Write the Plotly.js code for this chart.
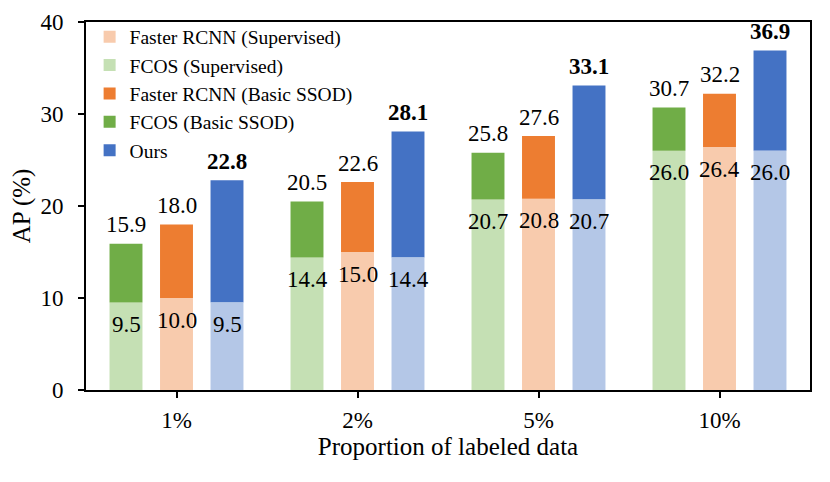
<!DOCTYPE html>
<html>
<head>
<meta charset="utf-8">
<script src="https://cdn.plot.ly/plotly-3.0.1.min.js"></script>
<style>html,body{margin:0;padding:0;background:#fff;}#chart{width:830px;height:482px;}</style>
</head>
<body>
<div id="chart"></div>
<script>
const categories = ['1%', '2%', '5%', '10%'];
const fcosSupervised = [9.5, 14.4, 20.7, 26.0];
const fcosBasic = [15.9, 20.5, 25.8, 30.7];
const fasterSupervised = [10.0, 15.0, 20.8, 26.4];
const fasterBasic = [18.0, 22.6, 27.6, 32.2];
const oursBase = [9.5, 14.4, 20.7, 26.0];
const oursTotal = [22.8, 28.1, 33.1, 36.9];

const FONT = 'Liberation Serif';
const W = 0.182;
const OFF = { fcos: -0.370, faster: -0.091, ours: 0.188 };
const fmt = v => v.toFixed(1);
const diff = (a, b) => a.map((v, i) => v - b[i]);

function lowerTrace(name, vals, color, off, group, show) {
  return {
    type: 'bar', name: name, x: categories, y: vals, base: 0,
    width: W, offset: off, marker: { color: color, line: { width: 0 } },
    legendgroup: group, showlegend: show, hoverinfo: 'x+y'
  };
}
function upperTrace(name, total, base, color, off, group) {
  return {
    type: 'bar', name: name, x: categories, y: diff(total, base), base: base,
    width: W, offset: off, marker: { color: color, line: { width: 0 } },
    legendgroup: group, showlegend: true, hoverinfo: 'x+y'
  };
}

const data = [
  lowerTrace('Faster RCNN (Supervised)', fasterSupervised, '#F8CBAD', OFF.faster, 'g1', true),
  lowerTrace('FCOS (Supervised)', fcosSupervised, '#C5E0B4', OFF.fcos, 'g2', true),
  upperTrace('Faster RCNN (Basic SSOD)', fasterBasic, fasterSupervised, '#ED7D31', OFF.faster, 'g3'),
  upperTrace('FCOS (Basic SSOD)', fcosBasic, fcosSupervised, '#70AD47', OFF.fcos, 'g4'),
  upperTrace('Ours', oursTotal, oursBase, '#4472C4', OFF.ours, 'g5'),
  lowerTrace('Ours (base)', oursBase, '#B4C7E7', OFF.ours, 'g5', false)
];

// value labels, placed through the category axis (index + bar offset)
const annotations = [];
function addLabels(vals, off, where, bold) {
  vals.forEach((v, i) => {
    annotations.push({
      xref: 'x', yref: 'y', x: i + off + W / 2, y: v,
      text: bold ? '<b>' + fmt(v) + '</b>' : fmt(v),
      showarrow: false, xanchor: 'center', yanchor: 'middle',
      yshift: where === 'above' ? 19 : -22,
      font: { family: FONT, size: 23, color: '#000' }
    });
  });
}
addLabels(fcosSupervised, OFF.fcos, 'below', false);
addLabels(fasterSupervised, OFF.faster, 'below', false);
addLabels(oursBase, OFF.ours, 'below', false);
addLabels(fcosBasic, OFF.fcos, 'above', false);
addLabels(fasterBasic, OFF.faster, 'above', false);
addLabels(oursTotal, OFF.ours, 'above', true);

const layout = {
  width: 830, height: 482,
  margin: { l: 86, r: 20, t: 22, b: 92 },
  paper_bgcolor: '#fff', plot_bgcolor: '#fff',
  barmode: 'overlay',
  font: { family: FONT, size: 22, color: '#000' },
  showlegend: true,
  annotations: annotations,
  legend: {
    x: 0.005, y: 1.012, xanchor: 'left', yanchor: 'top',
    font: { family: FONT, size: 19.5, color: '#000' },
    bgcolor: 'rgba(255,255,255,0)', traceorder: 'grouped', tracegroupgap: 0,
    itemclick: false, itemdoubleclick: false
  },
  xaxis: {
    type: 'category', range: [-0.5, 3.5],
    showline: true, linecolor: '#000', linewidth: 2, mirror: true,
    ticks: 'outside', ticklen: 6, tickwidth: 2, tickcolor: '#000',
    ticklabelstandoff: 2,
    tickfont: { family: FONT, size: 23, color: '#000' },
    showgrid: false, zeroline: false,
    title: { text: 'Proportion of labeled data', font: { family: FONT, size: 25, color: '#000' }, standoff: 4 }
  },
  yaxis: {
    range: [0, 40], dtick: 10,
    showline: true, linecolor: '#000', linewidth: 2, mirror: true,
    ticks: 'outside', ticklen: 6, tickwidth: 2, tickcolor: '#000',
    ticklabelstandoff: 10,
    tickfont: { family: FONT, size: 23, color: '#000' },
    showgrid: false, zeroline: false,
    title: { text: 'AP (%)', font: { family: FONT, size: 25, color: '#000' }, standoff: 3 }
  }
};

Plotly.newPlot('chart', data, layout, { displayModeBar: false, staticPlot: true });
</script>
</body>
</html>
